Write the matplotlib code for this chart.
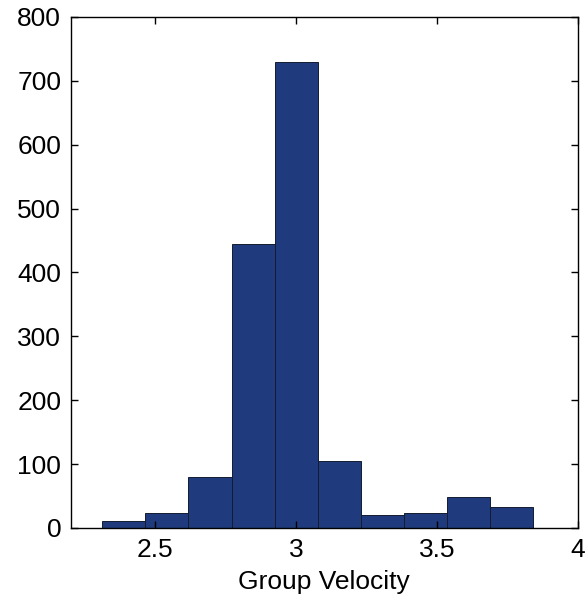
import numpy as np
import matplotlib
matplotlib.use("Agg")
import matplotlib.pyplot as plt

plt.rcParams['font.family'] = ['Liberation Sans', 'DejaVu Sans']

# histogram bins (10 equal bins) and counts
bin_lo = 2.311
bin_hi = 3.842
counts = [11, 23, 79, 445, 730, 105, 20, 24, 48, 33]

x_ticks = [2.5, 3, 3.5, 4]
x_tick_labels = ['2.5', '3', '3.5', '4']
y_ticks = [0, 100, 200, 300, 400, 500, 600, 700, 800]

edges = np.linspace(bin_lo, bin_hi, len(counts) + 1)

fig = plt.figure(figsize=(5.86, 6.04), dpi=100)
ax = fig.add_axes([0.121, 0.126, 0.865, 0.846])

ax.bar(edges[:-1], counts, width=np.diff(edges), align='edge',
       color='#1F3B7D', edgecolor='#141c30', linewidth=0.7)

ax.set_xlim(2.2, 4)
ax.set_ylim(0, 800)
ax.set_xticks(x_ticks)
ax.set_xticklabels(x_tick_labels)
ax.set_yticks(y_ticks)
ax.tick_params(direction='in', top=True, right=True, length=5, width=1,
               labelsize=19, pad=7)
for s in ax.spines.values():
    s.set_linewidth(1)
ax.set_xlabel('Group Velocity', fontsize=19, labelpad=6)

fig.savefig('out.png', dpi=100)
